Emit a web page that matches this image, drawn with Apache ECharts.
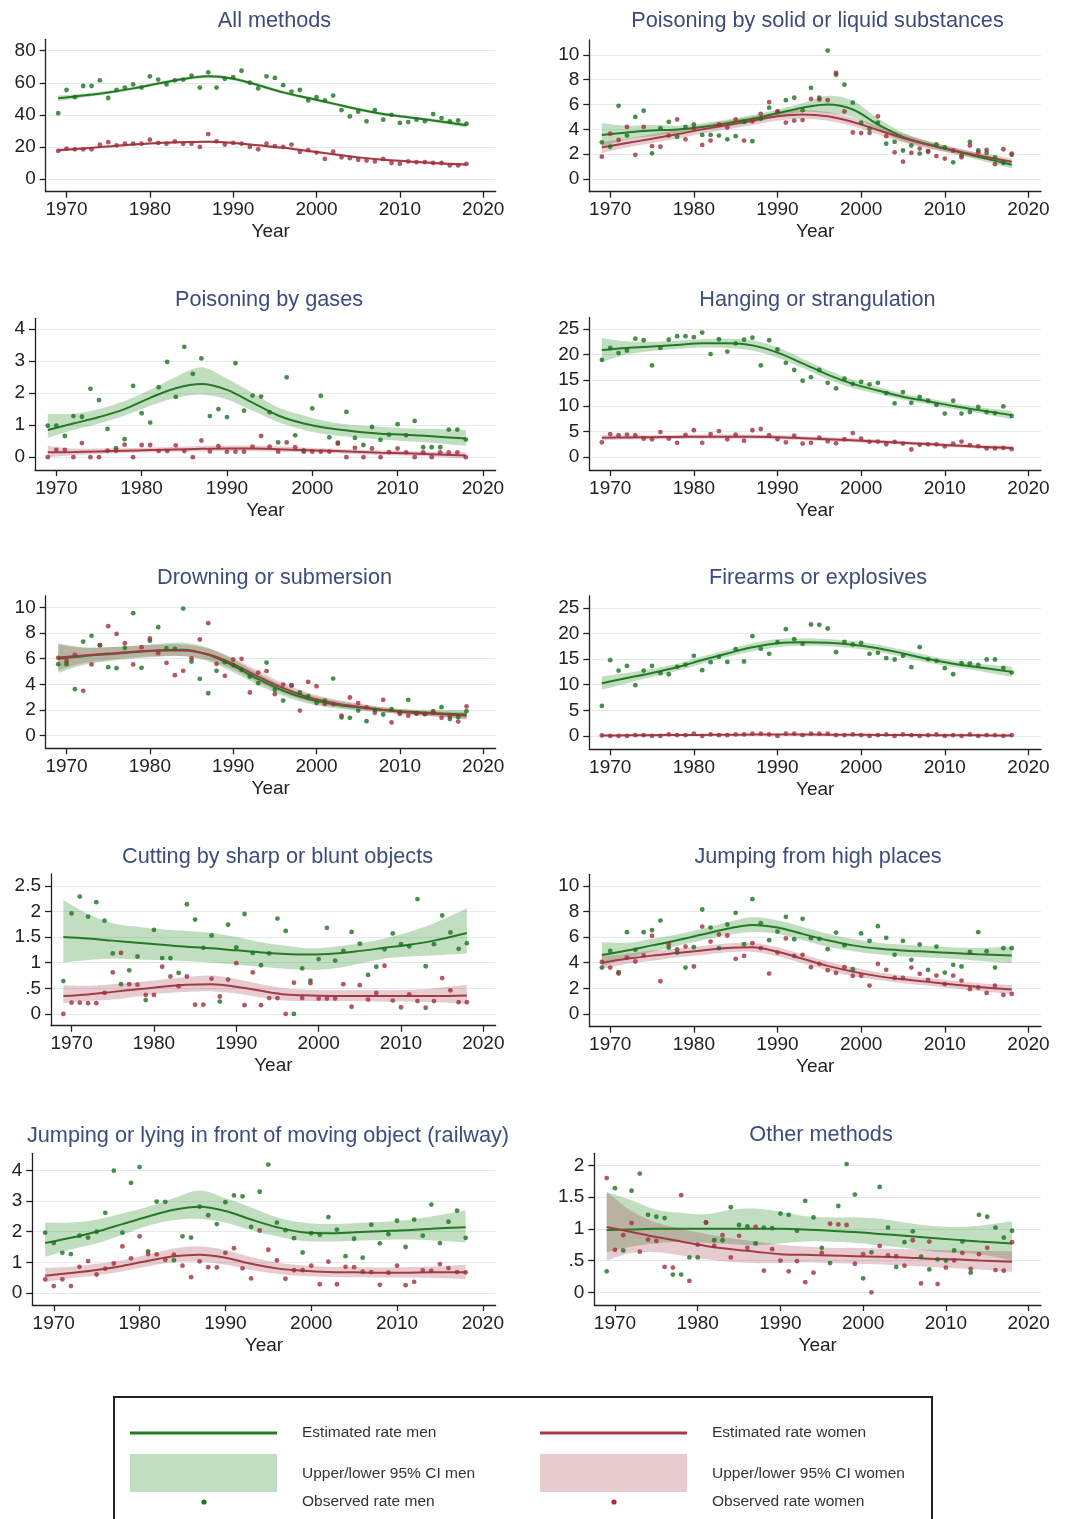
<!DOCTYPE html>
<html><head><meta charset="utf-8">
<script src="https://cdn.jsdelivr.net/npm/echarts@6/dist/echarts.min.js"></script>
<style>html,body{margin:0;padding:0;background:#fff}#c{width:1068px;height:1519px}</style>
</head><body><div id="c"></div>
<script>
// ---------------- DATA ----------------
const YEARS = [1969,1970,1971,1972,1973,1974,1975,1976,1977,1978,1979,1980,1981,1982,1983,1984,1985,1986,1987,1988,1989,1990,1991,1992,1993,1994,1995,1996,1997,1998,1999,2000,2001,2002,2003,2004,2005,2006,2007,2008,2009,2010,2011,2012,2013,2014,2015,2016,2017,2018];
const KNOTS = [1969,1972,1975,1978,1981,1984,1987,1990,1993,1996,1999,2002,2005,2008,2011,2014,2018];
const X_TICKS = [1970,1980,1990,2000,2010,2020];
const TITLES = ["All methods","Poisoning by solid or liquid substances","Poisoning by gases","Hanging or strangulation","Drowning or submersion","Firearms or explosives","Cutting by sharp or blunt objects","Jumping from high places","Jumping or lying in front of moving object (railway)","Other methods"];
const LEGEND_LABELS = ["Estimated rate men","Upper/lower 95% CI men","Observed rate men","Estimated rate women","Upper/lower 95% CI women","Observed rate women"];

// 1 All methods
const allTicks = [0,20,40,60,80];
const allObsMen = [41,55.5,51,58,58,61.5,50.5,55.5,57,59,57,64,62,59,61.5,62,64.5,57,66.5,57,62.5,63.5,67.5,60,56.5,64,63,58.5,54.5,55.5,49,51,49,52,43,39,42,36,43,37,40,35,35.5,37,36,40.5,38,36,36.5,34.5];
const allObsWomen = [17.5,19,18.5,18.5,18.5,21.5,23,21,22,22,22,24.5,22.5,22,23.5,22,22,20,28,23.5,21.5,22.5,22,20,18.5,22,20.5,20,21.5,17,18,16.5,12.5,17,13.5,13,12,11.5,11,12.5,10,9.5,11,10.5,10.5,10,10,8.5,8.5,9.5];
const allEstMen = [50.3,52,54,56.5,59.5,62.3,64,62.5,58.5,54,50.5,47,43.5,40.5,38.5,36.5,33.5];
const allLoMen = [48.5,50.8,53,55.5,58.5,61.3,63,61.5,57.5,53,49.5,46,42.5,39.5,37.5,35.5,32];
const allHiMen = [52.1,53.2,55,57.5,60.5,63.3,65,63.5,59.5,55,51.5,48,44.5,41.5,39.5,37.5,35];
const allEstWomen = [18,19,20.3,21.5,22.5,23,23.3,22.5,21,19.5,17.5,15.5,13.5,12,11,10,9];
const allLoWomen = [17,18.3,19.6,20.8,21.8,22.3,22.6,21.8,20.3,18.8,16.8,14.8,12.8,11.3,10.3,9.3,8.1];
const allHiWomen = [19,19.7,21,22.2,23.2,23.7,24,23.2,21.7,20.2,18.2,16.2,14.2,12.7,11.7,10.7,9.9];

// 2 Poisoning by solid or liquid substances
const solTicks = [0,2,4,6,8,10];
const solObsMen = [2.96,2.6,5.9,3.5,5.0,5.5,2.07,4.1,4.6,3.4,4.2,4.4,3.55,3.55,3.5,3.2,3.45,4.6,3.05,4.85,5.75,5.4,6.35,6.55,5.55,7.35,6.55,10.35,8.4,7.6,6.15,4.55,4.05,4.55,2.85,3.0,2.3,2.7,2.05,2.2,2.8,2.55,1.35,1.9,3.0,2.3,2.1,1.75,1.3,1.95];
const solObsWomen = [1.8,3.65,3.15,4.2,1.95,4.2,2.65,2.6,3.5,4.8,3.2,4.1,2.75,3.1,4.4,4.15,4.8,3.1,4.65,5.25,6.2,5.45,4.55,4.7,4.75,6.45,6.4,6.35,8.55,5.45,3.75,3.7,3.7,5.05,3.45,2.15,1.4,2.1,2.45,2.25,1.85,1.65,2.3,1.75,2.7,2.15,2.35,1.2,2.4,2.05];
const solEstMen = [3.55,3.75,3.9,4.0,4.2,4.5,4.85,5.3,5.75,6.0,5.6,4.4,3.4,2.8,2.3,1.8,1.15];
const solLoMen = [2.6,3.2,3.45,3.7,3.9,4.2,4.55,5.0,5.4,5.3,5.0,3.95,3.05,2.55,2.05,1.55,0.85];
const solHiMen = [4.5,4.3,4.35,4.3,4.5,4.8,5.15,5.6,6.1,6.7,6.3,4.9,3.75,3.05,2.55,2.05,1.45];
const solEstWomen = [2.55,2.9,3.25,3.6,4.0,4.35,4.7,5.05,5.2,5.05,4.6,3.95,3.3,2.75,2.3,1.9,1.4];
const solLoWomen = [2.1,2.55,2.9,3.25,3.65,4.0,4.35,4.7,4.85,4.7,4.25,3.6,2.95,2.45,2.05,1.65,1.15];
const solHiWomen = [3.0,3.25,3.6,3.95,4.35,4.7,5.05,5.4,5.55,5.4,4.95,4.3,3.65,3.05,2.55,2.15,1.65];

// 3 Poisoning by gases
const gasTicks = [0,1,2,3,4];
const gasObsMen = [0.98,0.98,0.66,1.28,1.26,2.13,1.78,0.88,0.28,0.56,2.22,1.37,1.08,2.18,2.97,1.88,3.44,2.6,3.08,1.28,1.5,1.25,2.93,1.45,1.92,1.89,1.4,0.46,2.49,0.68,0.21,1.52,1.91,0.62,0.45,1.41,0.6,0.38,0.94,0.54,0.7,1.03,0.68,1.13,0.31,0.31,0.31,0.86,0.86,0.55];
const gasObsWomen = [0,0.23,0.23,0,0.44,0,0,0.2,0.2,0.39,0,0.38,0.38,0.19,0.19,0.37,0.19,0,0.52,0.18,0.34,0.17,0.17,0.17,0.33,0.66,0.33,0.17,0.46,0.31,0.17,0.17,0.17,0.17,0.42,0,0.29,0,0.27,0,0.16,0.27,0.15,0,0.15,0,0.15,0.15,0.15,0];
const gasEstMen = [0.85,1.05,1.25,1.5,1.85,2.15,2.28,2.1,1.7,1.3,1.05,0.9,0.8,0.73,0.7,0.65,0.58];
const gasLoMen = [0.6,0.85,1.05,1.3,1.6,1.85,1.95,1.8,1.45,1.1,0.85,0.7,0.62,0.55,0.5,0.45,0.35];
const gasHiMen = [1.35,1.35,1.5,1.75,2.1,2.5,2.8,2.45,2.0,1.55,1.3,1.1,1.0,0.95,0.9,0.88,0.85];
const gasEstWomen = [0.15,0.16,0.18,0.2,0.22,0.24,0.26,0.27,0.27,0.25,0.22,0.2,0.17,0.14,0.12,0.09,0.05];
const gasLoWomen = [0.0,0.06,0.1,0.13,0.15,0.17,0.18,0.19,0.19,0.17,0.15,0.13,0.1,0.07,0.05,0.02,-0.05];
const gasHiWomen = [0.35,0.27,0.27,0.28,0.3,0.32,0.35,0.36,0.36,0.34,0.3,0.27,0.24,0.21,0.19,0.17,0.15];

// 4 Hanging or strangulation
const hangTicks = [0,5,10,15,20,25];
const hangObsMen = [18.96,21.3,20.3,20.8,23.1,22.8,17.9,21.3,22.9,23.6,23.6,23.4,24.3,20.1,23.0,20.6,22.2,22.9,23.3,17.9,22.8,21.0,18.4,17.0,14.9,15.6,17.0,14.5,13.4,15.3,14.3,14.7,14.2,14.5,12.5,10.5,12.7,10.6,11.75,11.0,10.2,8.5,11.0,8.5,8.8,9.8,8.8,8.6,9.9,8.05];
const hangObsWomen = [2.9,4.5,4.3,4.4,4.3,3.6,3.5,4.9,3.6,2.8,4.35,5.25,2.8,4.5,5.1,3.5,4.4,3.2,5.25,5.5,4.3,3.5,2.9,4.2,2.65,2.8,3.8,3.1,2.7,3.5,4.7,3.6,3.0,3.05,2.5,3.0,2.65,1.5,2.4,2.5,2.5,2.1,2.65,3.05,2.35,2.15,1.7,1.7,1.8,1.6];
const hangEstMen = [20.9,21.3,21.6,21.9,22.2,22.2,21.8,20.4,18.3,16.1,14.3,13.0,11.8,10.9,10.0,9.2,8.2];
const hangLoMen = [18.6,20.0,20.7,21.1,21.4,21.3,20.8,19.4,17.4,15.2,13.5,12.3,11.2,10.3,9.4,8.6,7.4];
const hangHiMen = [23.2,22.6,22.5,22.7,23.0,23.1,22.8,21.4,19.2,17.0,15.1,13.7,12.4,11.5,10.6,9.8,9.0];
const hangEstWomen = [3.8,3.85,3.9,3.95,4.0,4.0,4.0,3.9,3.7,3.5,3.3,3.05,2.8,2.55,2.3,2.05,1.8];
const hangLoWomen = [3.3,3.45,3.5,3.55,3.6,3.6,3.6,3.5,3.3,3.1,2.9,2.7,2.45,2.2,1.95,1.7,1.4];
const hangHiWomen = [4.3,4.25,4.3,4.35,4.4,4.4,4.4,4.3,4.1,3.9,3.7,3.4,3.15,2.9,2.65,2.4,2.2];

// 5 Drowning or submersion
const drownTicks = [0,2,4,6,8,10];
const drownObsMen = [5.57,5.57,3.62,7.34,7.79,7.06,5.34,5.26,6.85,9.56,5.29,7.4,8.46,6.8,6.77,9.92,5.78,4.43,3.3,5.05,5.73,5.5,5.13,4.61,4.09,5.7,3.57,2.73,3.9,3.36,3.07,2.53,2.73,4.45,1.41,1.38,1.95,1.12,2.0,1.64,2.06,1.8,2.79,1.72,1.67,1.9,2.21,1.28,1.43,1.9];
const drownObsWomen = [6.07,5.8,6.3,3.49,5.55,7.06,8.54,7.94,7.21,5.55,6.9,7.58,6.43,5.68,4.71,5.05,6.02,7.5,8.78,5.6,4.66,5.94,5.99,3.36,4.92,5.03,3.23,3.98,3.93,1.95,4.19,3.85,2.47,2.47,1.56,2.97,2.53,2.19,1.77,2.79,1.02,1.69,1.54,1.74,1.69,1.77,1.38,1.48,1.09,2.27];
const drownEstMen = [6.0,6.2,6.35,6.5,6.65,6.7,6.3,5.45,4.4,3.5,2.85,2.45,2.2,2.0,1.85,1.75,1.65];
const drownLoMen = [4.9,5.5,5.8,6.0,6.15,6.2,5.8,4.95,3.95,3.1,2.5,2.15,1.95,1.8,1.65,1.5,1.3];
const drownHiMen = [7.2,6.9,6.9,7.0,7.15,7.25,6.85,5.95,4.85,3.9,3.2,2.75,2.45,2.2,2.05,2.0,2.0];
const drownEstWomen = [6.1,6.25,6.4,6.55,6.65,6.65,6.35,5.6,4.6,3.7,3.0,2.55,2.25,2.0,1.8,1.7,1.55];
const drownLoWomen = [5.1,5.65,5.9,6.1,6.2,6.2,5.9,5.15,4.15,3.3,2.65,2.25,2.0,1.8,1.6,1.5,1.25];
const drownHiWomen = [7.1,6.85,6.9,7.0,7.1,7.1,6.8,6.05,5.05,4.1,3.35,2.85,2.5,2.2,2.0,1.9,1.85];

// 6 Firearms or explosives
const fireTicks = [0,5,10,15,20,25];
const fireObsMen = [5.86,14.78,12.76,13.67,9.9,12.76,13.67,12.24,12.04,13.48,13.93,15.63,12.83,14.39,15.43,14.45,16.93,14.52,19.47,16.99,16.02,18.29,20.83,18.88,17.97,21.74,21.68,20.96,16.34,18.36,17.84,18.16,16.02,16.21,15.17,14.91,15.63,13.41,17.32,14.97,14.65,13.22,12.04,14.19,14.13,13.87,14.91,14.91,13.28,12.37];
const fireObsWomen = [0.1,0,0,0,0.15,0.15,0,0,0.3,0.15,0.15,0.45,0,0.3,0.15,0.15,0.3,0.3,0.45,0.45,0.3,0,0.45,0.45,0.15,0.45,0.45,0.45,0.15,0.15,0.3,0.15,0,0.15,0.3,0,0.3,0.15,0,0.15,0.3,0,0.15,0,0.3,0,0.15,0.15,0,0.15];
const fireEstMen = [10.3,11.3,12.3,13.4,14.8,16.1,17.3,18.1,18.3,18.2,17.8,17.1,16.1,15.0,14.1,13.4,12.5];
const fireLoMen = [9.0,10.3,11.5,12.7,14.1,15.4,16.5,17.3,17.6,17.5,17.1,16.4,15.4,14.3,13.5,12.7,11.5];
const fireHiMen = [11.6,12.3,13.1,14.1,15.5,16.8,18.1,18.9,19.0,18.9,18.5,17.8,16.8,15.7,14.7,14.1,13.5];
const fireEstWomen = [0.1,0.12,0.15,0.18,0.21,0.24,0.27,0.28,0.28,0.26,0.23,0.2,0.18,0.16,0.14,0.12,0.1];
const fireLoWomen = [-0.05,0.0,0.03,0.06,0.09,0.12,0.15,0.16,0.16,0.14,0.11,0.08,0.06,0.04,0.02,0.0,-0.05];
const fireHiWomen = [0.25,0.24,0.27,0.3,0.33,0.36,0.39,0.4,0.4,0.38,0.35,0.32,0.3,0.28,0.26,0.24,0.25];

// 7 Cutting by sharp or blunt objects
const cutTicks = [0,0.5,1,1.5,2,2.5];
const cutObsMen = [0.64,1.96,2.29,1.9,2.18,1.82,1.18,0.58,0.85,1.12,0.27,1.64,1.09,1.09,0.8,2.14,1.84,1.29,1.53,0.24,1.74,1.3,1.95,1.19,0.95,1.18,1.86,1.62,0,0.89,0.65,1.07,1.68,1.04,1.23,1.6,1.37,0.76,0.92,1.26,1.57,1.36,1.32,2.24,0.93,1.36,1.92,1.59,1.27,1.38];
const cutObsWomen = [0,0.22,0.22,0.21,0.21,0.41,0.81,1.19,0.58,0.57,0.37,0.37,0.92,0.73,0.54,0.73,0.18,0.18,0.69,0.34,0.67,0.99,0.17,0.81,0.17,0.31,0.31,0,0.61,0.31,0.6,0.3,0.3,0.3,0.58,0.14,0.56,0.28,0.41,0.94,0.26,0.13,0.38,0.25,0.12,0.25,0.7,0.46,0.23,0.23];
const cutEstMen = [1.5,1.47,1.43,1.39,1.35,1.31,1.28,1.24,1.2,1.17,1.16,1.18,1.23,1.29,1.35,1.43,1.58];
const cutLoMen = [1.0,1.05,1.08,1.06,1.05,1.03,1.0,0.96,0.92,0.88,0.86,0.89,0.98,1.08,1.12,1.14,1.18];
const cutHiMen = [2.22,1.95,1.77,1.7,1.65,1.62,1.58,1.5,1.4,1.33,1.28,1.31,1.38,1.47,1.6,1.77,2.06];
const cutEstWomen = [0.35,0.38,0.43,0.48,0.53,0.57,0.58,0.53,0.45,0.38,0.36,0.35,0.35,0.35,0.35,0.35,0.36];
const cutLoWomen = [0.21,0.25,0.28,0.34,0.4,0.43,0.44,0.4,0.32,0.26,0.25,0.25,0.25,0.24,0.24,0.23,0.2];
const cutHiWomen = [0.56,0.55,0.58,0.62,0.67,0.72,0.75,0.68,0.58,0.5,0.47,0.46,0.46,0.46,0.47,0.5,0.57];

// 8 Jumping from high places
const highTicks = [0,2,4,6,8,10];
const highObsMen = [3.62,4.92,3.26,6.38,5.0,6.38,6.54,7.29,5.18,4.79,3.62,5.21,8.15,6.74,5.13,6.98,7.89,5.44,8.96,7.08,5.76,6.43,7.58,5.83,7.42,5.91,5.86,5.05,6.35,5.36,3.49,6.28,5.7,6.85,5.94,4.61,5.7,4.22,5.42,3.44,5.26,3.23,3.83,3.7,4.84,6.38,4.9,3.62,5.13,5.13];
const highObsWomen = [4.06,3.62,3.15,4.4,4.09,4.56,6.09,2.55,5.44,5.03,5.26,3.7,6.82,5.65,6.2,6.12,4.3,4.53,5.52,5.13,3.15,4.79,5.89,4.53,4.61,3.65,3.91,3.41,3.2,3.65,2.97,2.97,2.21,3.91,3.44,2.81,2.81,3.62,3.13,2.66,2.99,2.32,2.99,2.6,1.93,2.06,1.64,2.21,1.48,1.56];
const highEstMen = [4.6,4.95,5.35,5.75,6.2,6.65,6.95,6.75,6.25,5.75,5.35,5.1,4.95,4.85,4.75,4.65,4.55];
const highLoMen = [3.7,4.35,4.85,5.3,5.75,6.15,6.4,6.25,5.75,5.25,4.9,4.65,4.5,4.4,4.3,4.15,3.95];
const highHiMen = [5.6,5.55,5.85,6.2,6.65,7.15,7.55,7.3,6.8,6.25,5.85,5.55,5.4,5.3,5.2,5.15,5.25];
const highEstWomen = [4.0,4.3,4.55,4.75,4.95,5.15,5.2,4.85,4.3,3.75,3.3,2.95,2.7,2.5,2.3,2.1,1.9];
const highLoWomen = [3.5,3.9,4.15,4.4,4.6,4.8,4.85,4.5,3.95,3.4,2.95,2.65,2.4,2.2,2.0,1.8,1.55];
const highHiWomen = [4.5,4.7,4.95,5.1,5.3,5.5,5.55,5.2,4.65,4.1,3.65,3.25,3.0,2.8,2.6,2.4,2.25];

// 9 Railway
const railTicks = [0,1,2,3,4];
const railObsMen = [1.97,1.63,1.31,1.27,1.87,1.81,2.0,2.62,4.0,1.97,3.6,4.12,1.36,2.99,2.98,1.07,1.85,1.81,2.82,2.54,2.25,2.97,3.19,3.16,2.16,3.31,4.2,2.3,2.05,1.79,1.32,1.95,1.9,2.48,2.07,1.2,1.77,1.15,2.23,1.62,1.92,2.36,1.5,2.4,1.87,2.89,1.63,2.33,2.69,1.8];
const railObsWomen = [0.44,0.22,0.44,0.22,0.85,1.04,0.6,0.79,0.96,1.52,1.13,1.85,1.27,1.26,1.08,1.25,0.89,0.51,1.03,0.84,0.83,1.31,1.46,0.8,0.47,2.04,1.41,1.06,0.46,0.74,0.74,0.89,0.28,1.02,0.28,0.85,0.84,0.69,0.68,0.26,0.66,0.89,0.25,0.36,0.73,0.72,0.94,0.81,0.68,0.67];
const railEstMen = [1.63,1.8,2.0,2.25,2.5,2.72,2.82,2.68,2.4,2.15,1.98,1.95,1.98,2.02,2.05,2.1,2.15];
const railLoMen = [1.18,1.42,1.62,1.9,2.2,2.38,2.42,2.3,2.05,1.85,1.7,1.68,1.7,1.73,1.75,1.72,1.65];
const railHiMen = [2.3,2.3,2.4,2.6,2.82,3.1,3.35,3.1,2.8,2.47,2.3,2.25,2.28,2.32,2.38,2.5,2.7];
const railEstWomen = [0.56,0.65,0.75,0.88,1.05,1.2,1.25,1.15,0.95,0.8,0.72,0.68,0.67,0.66,0.66,0.67,0.67];
const railLoWomen = [0.35,0.48,0.57,0.7,0.87,1.0,1.02,0.92,0.75,0.62,0.55,0.52,0.51,0.5,0.5,0.49,0.45];
const railHiWomen = [0.82,0.85,0.95,1.07,1.25,1.45,1.52,1.4,1.17,0.99,0.9,0.85,0.84,0.83,0.84,0.86,0.92];

// 10 Other methods
const othTicks = [0,0.5,1,1.5,2];
const othObsMen = [0.33,1.64,0.66,1.6,1.87,1.22,1.19,1.17,0.28,0.28,0.55,0.55,1.1,0.82,0.82,1.34,1.06,1.04,0.77,1.02,1.01,1.24,1.22,0.97,1.44,1.18,0.7,0.46,1.36,2.02,1.54,0.22,0.63,1.66,1.02,0.4,0.79,0.96,0.56,0.36,0.52,0.5,0.66,0.8,0.31,1.22,1.19,1.02,0.86,0.97];
const othObsWomen = [1.8,0.67,0.9,1.09,0.64,0.83,0.81,0.4,0.39,1.53,0.18,0.75,1.1,0.73,0.9,0.55,0.89,0.7,1.03,0.34,0.68,0.5,0.33,0.49,0.16,0.31,0.62,1.08,1.07,1.06,0.45,0.6,0,0.73,0.58,0.57,0.42,0.82,0.14,0.8,0.13,0.39,0.5,0.62,0.37,0.6,0.7,0.35,0.34,0.79];
const othEstMen = [0.98,0.99,1.0,1.0,1.0,1.0,1.0,1.0,0.99,0.97,0.95,0.92,0.89,0.86,0.83,0.8,0.77];
const othLoMen = [0.63,0.72,0.77,0.8,0.78,0.76,0.74,0.77,0.8,0.8,0.78,0.74,0.7,0.65,0.62,0.6,0.5];
const othHiMen = [1.58,1.45,1.3,1.25,1.23,1.3,1.32,1.27,1.2,1.18,1.18,1.16,1.1,1.05,1.03,1.05,1.12];
const othEstWomen = [1.03,0.95,0.87,0.8,0.73,0.68,0.64,0.6,0.59,0.58,0.57,0.56,0.55,0.53,0.52,0.5,0.48];
const othLoWomen = [0.5,0.62,0.63,0.58,0.52,0.48,0.46,0.46,0.47,0.46,0.45,0.44,0.42,0.4,0.38,0.36,0.32];
const othHiWomen = [1.58,1.28,1.1,1.0,0.92,0.85,0.8,0.75,0.72,0.7,0.7,0.69,0.68,0.67,0.66,0.65,0.65];

// ---------------- STRUCTURE ----------------
const PANELS = [
  [allObsMen,allObsWomen,allEstMen,allLoMen,allHiMen,allEstWomen,allLoWomen,allHiWomen,allTicks],
  [solObsMen,solObsWomen,solEstMen,solLoMen,solHiMen,solEstWomen,solLoWomen,solHiWomen,solTicks],
  [gasObsMen,gasObsWomen,gasEstMen,gasLoMen,gasHiMen,gasEstWomen,gasLoWomen,gasHiWomen,gasTicks],
  [hangObsMen,hangObsWomen,hangEstMen,hangLoMen,hangHiMen,hangEstWomen,hangLoWomen,hangHiWomen,hangTicks],
  [drownObsMen,drownObsWomen,drownEstMen,drownLoMen,drownHiMen,drownEstWomen,drownLoWomen,drownHiWomen,drownTicks],
  [fireObsMen,fireObsWomen,fireEstMen,fireLoMen,fireHiMen,fireEstWomen,fireLoWomen,fireHiWomen,fireTicks],
  [cutObsMen,cutObsWomen,cutEstMen,cutLoMen,cutHiMen,cutEstWomen,cutLoWomen,cutHiWomen,cutTicks],
  [highObsMen,highObsWomen,highEstMen,highLoMen,highHiMen,highEstWomen,highLoWomen,highHiWomen,highTicks],
  [railObsMen,railObsWomen,railEstMen,railLoMen,railHiMen,railEstWomen,railLoWomen,railHiWomen,railTicks],
  [othObsMen,othObsWomen,othEstMen,othLoMen,othHiMen,othEstWomen,othLoWomen,othHiWomen,othTicks]
];

// layout (pixels) and axis extents
const LAYOUT = [
  {left:45.7, top:39.3, width:450, height:152.4, ymin:-7.9, ymax:87.1, tx:274.5, ty:21},
  {left:589.3, top:40, width:451.7, height:151.7, ymin:-1.02, ymax:11.2, tx:817.5, ty:21},
  {left:35, top:318.3, width:460.7, height:151.7, ymin:-0.4, ymax:4.33, tx:269, ty:300},
  {left:589.3, top:317.7, width:451.7, height:152.3, ymin:-2.5, ymax:27.2, tx:817.5, ty:300},
  {left:45.7, top:596, width:450, height:152.3, ymin:-1.0, ymax:10.9, tx:274.5, ty:578},
  {left:589.3, top:596, width:451.7, height:153.3, ymin:-2.6, ymax:27.3, tx:818, ty:578},
  {left:51, top:874, width:444.7, height:151.7, ymin:-0.23, ymax:2.73, tx:277.5, ty:857},
  {left:589.3, top:874.3, width:451.7, height:152.4, ymin:-1.0, ymax:10.9, tx:818, ty:857},
  {left:32.3, top:1153.3, width:463.4, height:151.7, ymin:-0.4, ymax:4.57, tx:268, ty:1136},
  {left:594.3, top:1153.3, width:446.7, height:151.7, ymin:-0.2, ymax:2.19, tx:821, ty:1135}
];
const X_MIN = 1967.5, X_MAX = 2021.5;

const FONT = "'Liberation Sans', Arial, Helvetica, sans-serif";
const C = {
  menLine:'#237a23', menDot:'#1b721f', menBand:'rgba(40,140,40,0.29)', menBox:'#c2dec2',
  wLine:'#a23b45', wDot:'#a0303d', wBand:'rgba(160,50,65,0.25)', wBox:'#e6cbcf',
  axis:'#222', grid:'#e2ecef', title:'#3d4c7c', text:'#222'
};

function crSample(p) {
  const out = [];
  for (let i = 0; i < p.length - 1; i++) {
    const p0 = p[i-1] || p[i], p1 = p[i], p2 = p[i+1], p3 = p[i+2] || p[i+1];
    for (let s = 0; s < 12; s++) {
      const t = s/12, t2 = t*t, t3 = t2*t;
      const f = k => 0.5*((2*p1[k]) + (-p0[k]+p2[k])*t + (2*p0[k]-5*p1[k]+4*p2[k]-p3[k])*t2 + (-p0[k]+3*p1[k]-3*p2[k]+p3[k])*t3);
      out.push([f(0), f(1)]);
    }
  }
  out.push(p[p.length-1]);
  return out;
}

function fmtTick(v) {
  if (v > 0 && v < 1) return String(v).replace(/^0/, '');
  return String(v);
}

const grids = [], xAxes = [], yAxes = [], series = [], graphics = [];
PANELS.forEach((P, i) => {
  const [obsM, obsW, estM, loM, hiM, estW, loW, hiW, yTicks] = P;
  const L = LAYOUT[i];
  grids.push({left:L.left, top:L.top, width:L.width, height:L.height, containLabel:false});
  xAxes.push({
    gridIndex:i, type:'value', min:X_MIN, max:X_MAX,
    name:'Year', nameLocation:'middle', nameGap:31,
    nameTextStyle:{fontFamily:FONT, fontSize:19, color:C.text},
    axisLine:{show:true, onZero:false, lineStyle:{color:C.axis, width:1.3}},
    axisTick:{show:true, length:6, customValues:X_TICKS, lineStyle:{color:C.axis, width:1.3}},
    axisLabel:{customValues:X_TICKS, margin:9, fontFamily:FONT, fontSize:19, color:C.text, formatter:v=>String(v)},
    splitLine:{show:false}
  });
  yAxes.push({
    gridIndex:i, type:'value', min:L.ymin, max:L.ymax,
    axisLine:{show:true, onZero:false, lineStyle:{color:C.axis, width:1.3}},
    axisTick:{show:true, length:6, customValues:yTicks, lineStyle:{color:C.axis, width:1.3}},
    axisLabel:{customValues:yTicks, margin:10, fontFamily:FONT, fontSize:19, color:C.text, formatter:fmtTick},
    splitLine:{show:true, customValues:yTicks, lineStyle:{color:C.grid, width:1}}
  });
  const band = (lo, hi, color) => ({
    type:'custom', xAxisIndex:i, yAxisIndex:i, z:1, silent:true,
    data: KNOTS.map((k, j) => [k, lo[j], hi[j]]),
    encode:{x:0, y:[1,2]},
    renderItem:(params, api) => {
      if (params.dataIndex !== 0) return null;
      const up = KNOTS.map((k, j) => api.coord([k, hi[j]]));
      const dn = KNOTS.map((k, j) => api.coord([k, lo[j]])).reverse();
      return {type:'polygon', shape:{points: crSample(up).concat(crSample(dn))}, style:{fill:color}};
    }
  });
  series.push(band(loM, hiM, C.menBand));
  series.push(band(loW, hiW, C.wBand));
  const est = (vals, color) => ({
    type:'line', xAxisIndex:i, yAxisIndex:i, z:3, silent:true, symbol:'none', smooth:0.35,
    data: KNOTS.map((k, j) => [k, vals[j]]),
    lineStyle:{color, width:2}
  });
  series.push(est(estM, C.menLine));
  series.push(est(estW, C.wLine));
  const obs = (vals, color) => ({
    type:'scatter', xAxisIndex:i, yAxisIndex:i, z:4, silent:true, symbolSize:4.8,
    data: YEARS.map((y, j) => [y, vals[j]]),
    itemStyle:{color}
  });
  series.push(obs(obsM, C.menDot));
  series.push(obs(obsW, C.wDot));
  graphics.push({type:'text', x:L.tx, y:L.ty, style:{text:TITLES[i], x:0, y:0, align:'center', verticalAlign:'middle', fontFamily:FONT, fontSize:21.7, fill:C.title}});
});

// legend box
const LG = [
  {type:'rect', shape:{x:114, y:1397, width:818, height:140}, style:{fill:'#fff', stroke:'#222', lineWidth:2}},
  {type:'line', shape:{x1:130, y1:1433, x2:277, y2:1433}, style:{stroke:C.menLine, lineWidth:3}},
  {type:'rect', shape:{x:130, y:1454, width:147, height:38}, style:{fill:C.menBox}},
  {type:'circle', shape:{cx:204, cy:1502, r:2.6}, style:{fill:C.menDot}},
  {type:'line', shape:{x1:540, y1:1433, x2:687, y2:1433}, style:{stroke:C.wLine, lineWidth:3}},
  {type:'rect', shape:{x:540, y:1454, width:147, height:38}, style:{fill:C.wBox}},
  {type:'circle', shape:{cx:614, cy:1502, r:2.6}, style:{fill:C.wDot}}
];
const legendPos = [[302,1433],[302,1474],[302,1502],[712,1433],[712,1474],[712,1502]];
legendPos.forEach((p, k) => {
  LG.push({type:'text', x:p[0], y:p[1], style:{text:LEGEND_LABELS[k], align:'left', verticalAlign:'middle', fontFamily:FONT, fontSize:15.5, fill:'#333'}});
});

const chart = echarts.init(document.getElementById('c'), null, {renderer:'canvas'});
chart.setOption({
  animation:false,
  backgroundColor:'#fff',
  grid:grids, xAxis:xAxes, yAxis:yAxes, series:series,
  graphic:{elements: LG.concat(graphics)}
});
</script>
</body></html>
